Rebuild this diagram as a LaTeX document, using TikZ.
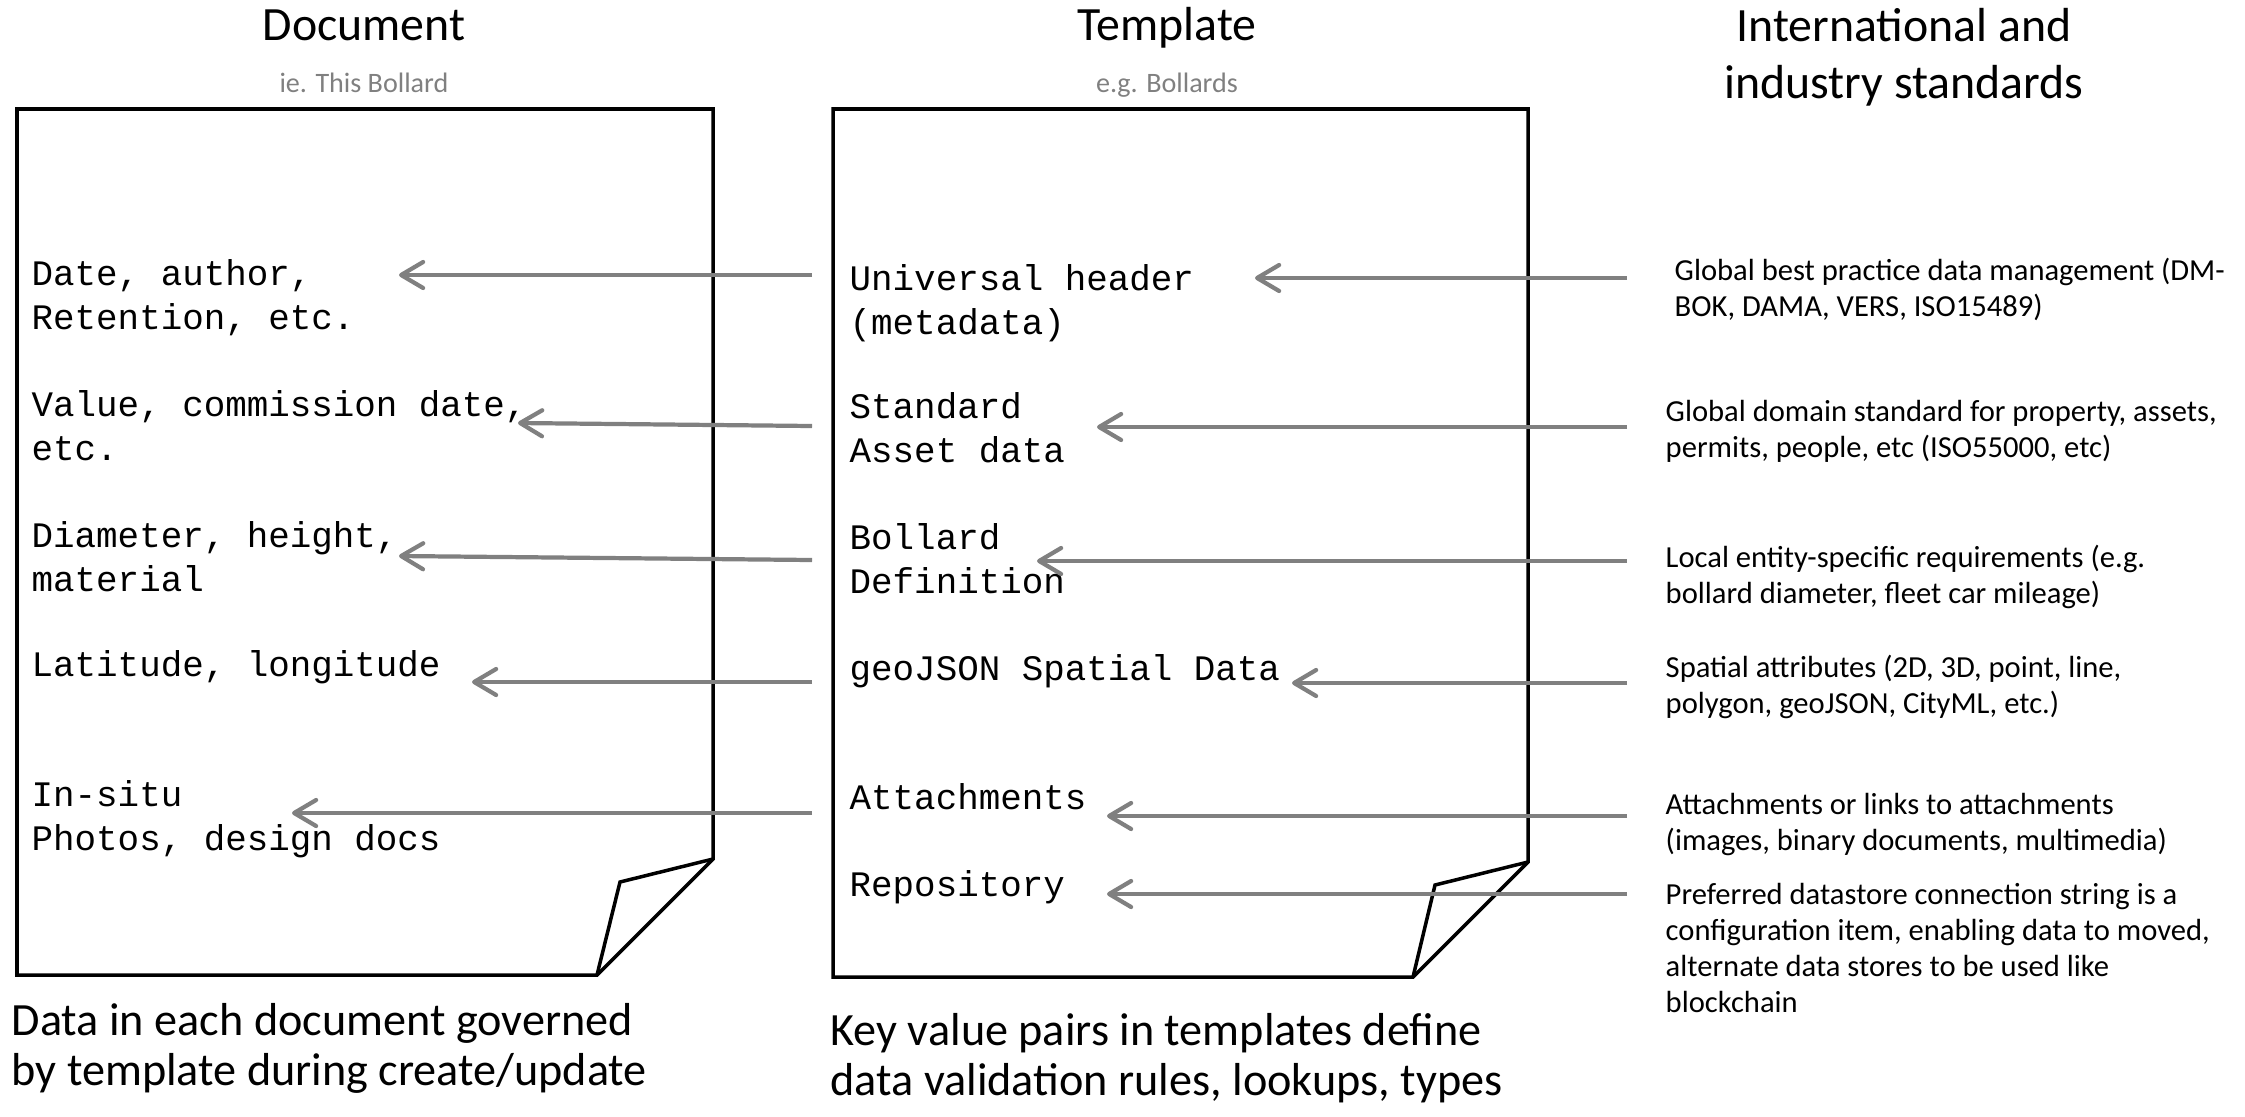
\documentclass[tikz,border=0pt]{standalone}
\usepackage{fontspec}
\setmainfont{Carlito}
\setmonofont{Liberation Mono}
\usetikzlibrary{arrows.meta,positioning}
\definecolor{ArrowGray}{RGB}{128,128,128}
\definecolor{NoteGray}{RGB}{128,128,128}
\tikzset{
  page/.style={draw=black,line width=1pt,line join=miter},
  fieldtext/.style={anchor=base west,inner sep=0pt,align=left,font=\fontsize{10.2}{12.5}\selectfont\ttfamily},
  stdtext/.style={anchor=base west,inner sep=0pt,align=left,font=\fontsize{8.7}{10.2}\selectfont},
  coltitle/.style={anchor=base,inner sep=0pt,align=center,font=\fontsize{13.6}{16.2}\selectfont},
  colnote/.style={anchor=base,inner sep=0pt,font=\fontsize{8}{9.6}\selectfont,text=NoteGray},
  captext/.style={anchor=base west,inner sep=0pt,align=left,font=\fontsize{13.15}{14.2}\selectfont},
  feed/.style={-{Straight Barb[length=2.2mm,width=2.6mm,round]},line width=1.2pt,draw=ArrowGray}
}
\begin{document}
\begin{tikzpicture}[x=0.1mm,y=-0.1mm]
\useasboundingbox (0,0) rectangle (2245,1116);
% column titles (multi-line nodes sit on their last baseline)
\node[coltitle] (docTitle) at (364,41) {Document};
\node[colnote] (docNote) at (364,92) {ie. This Bollard};
\node[coltitle] (tplTitle) at (1167,41) {Template};
\node[colnote] (tplNote) at (1167,92) {e.g. Bollards};
\node[coltitle] (stdTitle) at (1904,98) {International and\\industry standards};
% the two pages, with folded corner
\draw[page] (17,109) -- (713,109) -- (713,859) -- (597,975) -- (17,975) -- cycle;
\draw[page] (713,859) -- (620,882) -- (597,975);
\draw[page] (833,109) -- (1528,109) -- (1528,862) -- (1413,977) -- (833,977) -- cycle;
\draw[page] (1528,862) -- (1435,885) -- (1413,977);
% document fields
\node[fieldtext] (d1) at (31,329) {Date, author,\\Retention, etc.};
\node[fieldtext] (d2) at (31,460) {Value, commission date,\\etc.};
\node[fieldtext] (d3) at (31,591) {Diameter, height,\\material};
\node[fieldtext] (d4) at (31,676) {Latitude, longitude};
\node[fieldtext] (d5) at (31,850) {In-situ\\Photos, design docs};
% template sections
\node[fieldtext] (t1) at (849,334) {Universal header\\(metadata)};
\node[fieldtext] (t2) at (849,462) {Standard\\Asset data};
\node[fieldtext] (t3) at (849,593) {Bollard\\Definition};
\node[fieldtext] (t4) at (849,680) {geoJSON Spatial Data};
\node[fieldtext] (t5) at (849,809) {Attachments};
\node[fieldtext] (t6) at (849,896) {Repository};
% standards
\node[stdtext] (s1) at (1674,316) {Global best practice data management (DM-\\BOK, DAMA, VERS, ISO15489)};
\node[stdtext] (s2) at (1665,457) {Global domain standard for property, assets,\\permits, people, etc (ISO55000, etc)};
\node[stdtext] (s3) at (1665,603) {Local entity-specific requirements (e.g.\\bollard diameter, fleet car mileage)};
\node[stdtext] (s4) at (1665,713) {Spatial attributes (2D, 3D, point, line,\\polygon, geoJSON, CityML, etc.)};
\node[stdtext] (s5) at (1665,850) {Attachments or links to attachments\\(images, binary documents, multimedia)};
\node[stdtext] (s6) at (1665,1012) {Preferred datastore connection string is a\\configuration item, enabling data to moved,\\alternate data stores to be used like\\blockchain};
% captions
\node[captext] (docCap) at (11,1085) {Data in each document governed\\by template during create/update};
\node[captext] (tplCap) at (830,1095) {Key value pairs in templates define\\data validation rules, lookups, types};
% arrow ends
\foreach \n/\y/\a/\b in {1/278/1627/1255, 2/427/1627/1097, 3/561/1627/1037,
                         4/683/1627/1292, 5/816/1627/1107, 6/894/1627/1107}
  {\coordinate (sA\n) at (\a,\y); \coordinate (tB\n) at (\b,\y);}
\foreach \n/\y/\v/\a/\b in {1/275/275/812/399, 2/426/423/812/518, 3/560/556/812/399,
                            4/682/682/812/472, 5/813/813/812/292}
  {\coordinate (tA\n) at (\a,\y); \coordinate (dB\n) at (\b,\v);}
% standards feed the template, template feeds the document
\foreach \n in {1,...,6} \draw[feed] (sA\n) -- (tB\n);
\foreach \n in {1,...,5} \draw[feed] (tA\n) -- (dB\n);
\end{tikzpicture}
\end{document}
